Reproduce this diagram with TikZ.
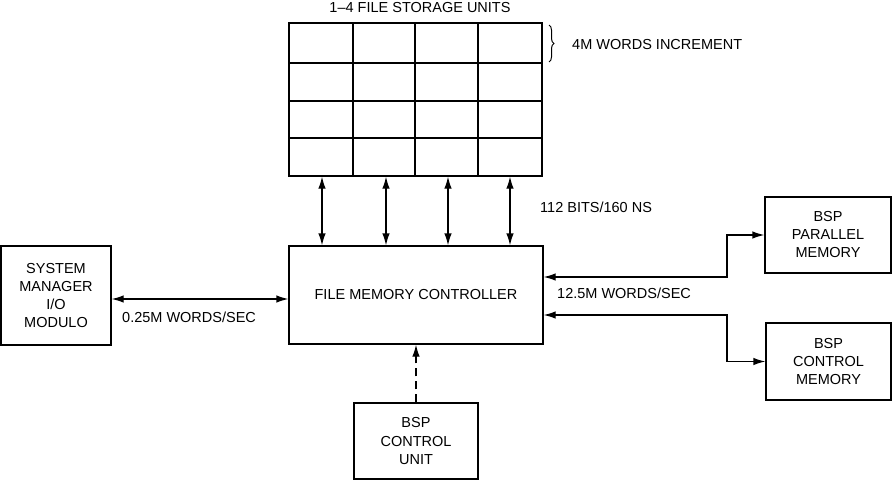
\documentclass[tikz,border=0pt]{standalone}
\usepackage{fontspec}
\setmainfont{Liberation Sans}
\usetikzlibrary{arrows.meta,decorations.pathreplacing}
\begin{document}
\begin{tikzpicture}[x=1pt,y=-1pt,
  every node/.style={font=\fontsize{14.5}{18}\selectfont, inner sep=0pt},
  box/.style={draw, line width=1.3pt, align=center},
  conn/.style={line width=1.3pt, {Latex[length=12pt,width=7.5pt]}-{Latex[length=12pt,width=7.5pt]}},
  oneway/.style={line width=1.3pt, -{Latex[length=12pt,width=7.5pt]}},
  lbl/.style={anchor=west}]
\useasboundingbox (0,0) rectangle (893,490);

% file storage grid
\node[box, minimum width=253pt, minimum height=153pt] (fsu) at (415.5,99.5) {};
\draw[line width=1.3pt] (353,23) -- (353,176) (415,23) -- (415,176) (478,23) -- (478,176)
  (289,63) -- (542,63) (289,101) -- (542,101) (289,138) -- (542,138);
\node (title) at (420,8) {1–4 FILE STORAGE UNITS};

\draw[line width=1pt, decorate, decoration={brace, amplitude=5pt}] (549,25) -- (549,62);
\node[lbl] (incr) at (572,45) {4M WORDS INCREMENT};

% controller
\node[box, minimum width=254pt, minimum height=98pt] (fmc) at (416,295) {FILE MEMORY CONTROLLER};

% grid-controller arrows
\foreach \x/\n in {322/a, 386/b, 448/c, 510/d} {
  \coordinate (\n) at (\x,0);
  \draw[conn] (fsu.south -| \n) -- (fmc.north -| \n);
}
\node[lbl] (bits) at (540,207) {112 BITS/160 NS};

% system manager
\node[box, minimum width=110pt, minimum height=99pt] (sys) at (56,295.5) {SYSTEM\\MANAGER\\I/O\\MODULO};
\coordinate (ys) at (0,299);
\draw[conn] (sys.east |- ys) -- (fmc.west |- ys);
\node[lbl] (rate1) at (122,317) {0.25M WORDS/SEC};

% BSP memories
\node[box, minimum width=126pt, minimum height=76pt] (pm) at (828,235) {BSP\\PARALLEL\\MEMORY};
\node[box, minimum width=125pt, minimum height=77pt] (cm) at (828.5,361.5) {BSP\\CONTROL\\MEMORY};
\coordinate (y1) at (0,277);
\coordinate (y2) at (0,315);
\coordinate (bx) at (727,0);
\draw[conn] (fmc.east |- y1) -- (bx |- y1) -- (bx |- pm.west) -- (pm.west);
\draw[conn] (fmc.east |- y2) -- (bx |- y2) -- (bx |- cm.west) -- (cm.west);
\node[lbl] (rate2) at (557,293) {12.5M WORDS/SEC};

% BSP control unit
\node[box, minimum width=124pt, minimum height=76pt] (cu) at (416,441) {BSP\\CONTROL\\UNIT};
\draw[oneway, dash pattern=on 8pt off 5pt] (cu.north) -- (fmc.south);
\end{tikzpicture}
\end{document}
